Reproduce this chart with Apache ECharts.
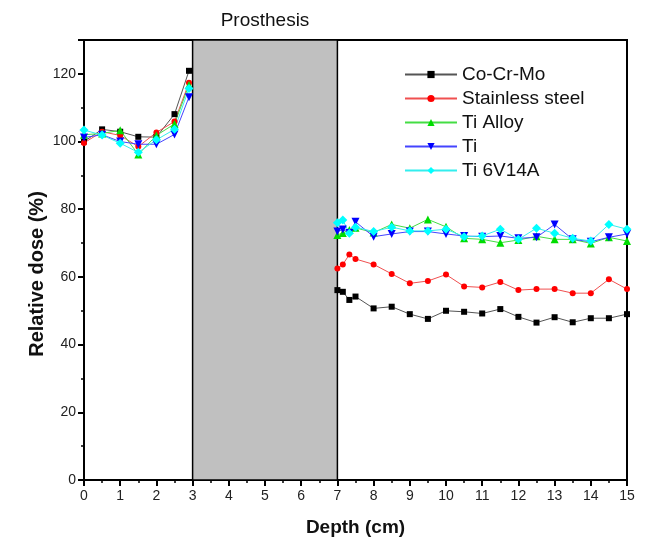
<!DOCTYPE html>
<html>
<head>
<meta charset="utf-8">
<script src="https://cdn.jsdelivr.net/npm/echarts@6/dist/echarts.min.js"></script>
<style>
html, body { margin: 0; padding: 0; background: #fff; }
#chart { width: 646px; height: 543px; }
</style>
</head>
<body>
<div id="chart"></div>
<script>
// depth positions (cm) before and after the prosthesis
var depthLeft = [0, 0.5, 1, 1.5, 2, 2.5, 2.9];
var depthRight = [7, 7.15, 7.33, 7.5, 8, 8.5, 9, 9.5, 10, 10.5, 11, 11.5, 12, 12.5, 13, 13.5, 14, 14.5, 15];

// relative dose (%)
var coCrMoLeft = [100.0, 103.6, 102.9, 101.4, 101.3, 108.1, 120.9];
var coCrMoRight = [56.1, 55.6, 53.2, 54.2, 50.7, 51.2, 49.0, 47.6, 50.0, 49.7, 49.2, 50.5, 48.2, 46.5, 48.1, 46.6, 47.8, 47.8, 49.0];
var steelLeft = [99.6, 102.9, 101.8, 98.5, 102.7, 105.9, 117.4];
var steelRight = [62.5, 63.7, 66.6, 65.3, 63.7, 60.9, 58.1, 58.8, 60.7, 57.2, 56.9, 58.5, 56.1, 56.4, 56.4, 55.2, 55.2, 59.3, 56.4];
var tiAlloyLeft = [102.0, 102.4, 103.3, 96.2, 101.8, 105.2, 116.7];
var tiAlloyRight = [72.4, 73.0, 73.9, 74.5, 73.1, 75.5, 74.4, 77.0, 74.8, 71.4, 71.1, 70.1, 70.9, 72.0, 71.1, 71.1, 69.9, 71.7, 70.6];
var tiLeft = [101.2, 102.0, 100.0, 99.2, 99.2, 102.1, 113.1];
var tiRight = [73.4, 74.0, 73.0, 76.3, 71.9, 72.7, 73.4, 73.4, 72.7, 72.1, 71.9, 72.1, 71.4, 71.7, 75.5, 71.1, 70.4, 71.7, 72.7];
var ti6Left = [103.4, 101.9, 99.5, 96.8, 100.5, 103.6, 115.7];
var ti6Right = [76.0, 76.8, 72.9, 74.7, 73.4, 74.7, 73.6, 73.6, 74.1, 71.9, 72.1, 74.1, 71.1, 74.4, 72.9, 71.4, 70.6, 75.5, 74.1];

var yTicks = [0, 20, 40, 60, 80, 100, 120];

// join both sides with a gap across the prosthesis
function pts(left, right) {
	var out = [];
	for (var i = 0; i < depthLeft.length; i++) out.push([depthLeft[i], left[i]]);
	out.push([5, '-']);
	for (var j = 0; j < depthRight.length; j++) out.push([depthRight[j], right[j]]);
	return out;
}

function mkSeries(name, color, lineColor, symbol, size, rotate, left, right) {
	return {
		name: name,
		type: 'line',
		data: pts(left, right),
		symbol: symbol,
		symbolSize: size,
		symbolRotate: rotate,
		connectNulls: false,
		z: 3,
		itemStyle: { color: color },
		lineStyle: { color: lineColor, width: 1 }
	};
}

var series = [
	mkSeries('Co-Cr-Mo', '#000000', '#555555', 'rect', 6, 0, coCrMoLeft, coCrMoRight),
	mkSeries('Stainless steel', '#ff0000', '#f05050', 'circle', 6, 0, steelLeft, steelRight),
	mkSeries('Ti Alloy', '#00dd00', '#44dd44', 'triangle', 8, 0, tiAlloyLeft, tiAlloyRight),
	mkSeries('Ti', '#0000ff', '#4444ff', 'triangle', 8, 180, tiLeft, tiRight),
	mkSeries('Ti 6V14A', '#00ffff', '#33eeee', 'diamond', 9, 0, ti6Left, ti6Right)
];

// prosthesis region
series[0].markArea = {
	silent: true,
	itemStyle: { color: '#c0c0c0', borderColor: '#000', borderWidth: 1.5 },
	label: {
		show: true,
		position: 'top',
		distance: 9,
		color: '#111',
		fontSize: 19,
		fontFamily: 'Liberation Sans'
	},
	data: [[{ name: 'Prosthesis', xAxis: 3 }, { xAxis: 7 }]]
};

var chart = echarts.init(document.getElementById('chart'));
chart.setOption({
	animation: false,
	backgroundColor: '#fff',
	textStyle: { fontFamily: 'Liberation Sans' },
	grid: {
		left: 84, right: 19, top: 40, bottom: 63,
		show: true, borderColor: '#000', borderWidth: 2
	},
	legend: {
		orient: 'vertical',
		left: 399,
		top: 60,
		itemWidth: 52,
		itemHeight: 9,
		itemGap: 5,
		textStyle: { fontSize: 19, color: '#111' },
		data: ['Co-Cr-Mo', 'Stainless steel', 'Ti Alloy', 'Ti', 'Ti 6V14A']
	},
	xAxis: {
		type: 'value',
		min: 0, max: 15, interval: 1,
		name: 'Depth (cm)',
		nameLocation: 'middle',
		nameGap: 38,
		nameTextStyle: { fontSize: 19, fontWeight: 'bold', color: '#111' },
		axisLine: { lineStyle: { color: '#000', width: 2 } },
		axisTick: { length: 6, lineStyle: { color: '#000', width: 2 } },
		minorTick: { show: true, splitNumber: 2, length: 3, lineStyle: { color: '#000', width: 1.5 } },
		axisLabel: { fontSize: 14, color: '#222', margin: 9 },
		splitLine: { show: false }
	},
	yAxis: {
		type: 'value',
		min: 0, max: 130, interval: 20,
		name: 'Relative dose (%)',
		nameLocation: 'middle',
		nameGap: 37,
		nameMoveOverlap: false,
		nameTextStyle: { fontSize: 20, fontWeight: 'bold', color: '#111', padding: [0, 28, 0, 0] },
		axisLine: { lineStyle: { color: '#000', width: 2 } },
		axisTick: { length: 6, lineStyle: { color: '#000', width: 2 } },
		minorTick: { show: true, splitNumber: 2, length: 3, lineStyle: { color: '#000', width: 1.5 } },
		axisLabel: {
			fontSize: 14, color: '#222', margin: 8,
			formatter: function (v) { return yTicks.indexOf(v) >= 0 ? v : ''; }
		},
		splitLine: { show: false }
	},
	series: series
});
</script>
</body>
</html>
